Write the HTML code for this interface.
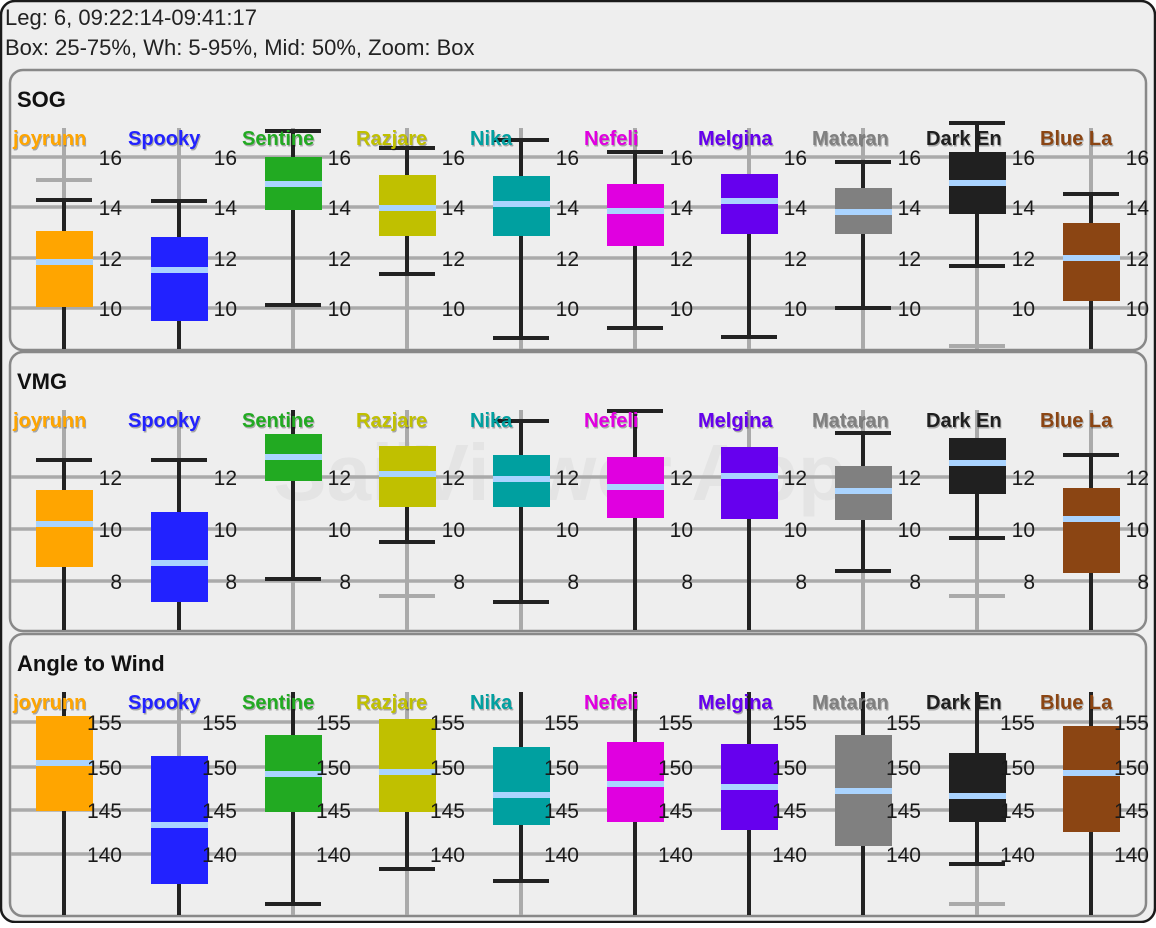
<!DOCTYPE html>
<html><head><meta charset="utf-8"><style>
html,body{margin:0;padding:0;background:#fff;}
body{width:1156px;height:923px;overflow:hidden;font-family:"Liberation Sans",sans-serif;}
</style></head><body>
<svg id="s" width="1156" height="923" xmlns="http://www.w3.org/2000/svg" font-family="Liberation Sans, sans-serif"></svg>
<script>
const S=document.getElementById('s');let h='';
h+='<rect x="1" y="1" width="1154" height="921" rx="14" fill="#eeeeee" stroke="#1a1a1a" stroke-width="2.5"/>';
h+='<text x="5" y="25" font-size="22" fill="#222">Leg: 6, 09:22:14-09:41:17</text>';
h+='<text x="5" y="55" font-size="22" fill="#222">Box: 25-75%, Wh: 5-95%, Mid: 50%, Zoom: Box</text>';
h+='<text x="560" y="500" font-size="80" font-weight="bold" fill="#000" fill-opacity="0.04" text-anchor="middle">SailViewer App</text>';
const cx=[64,179,293,407,521,635,749,863,977,1091];
const names=["joyrunn","Spooky","Sentine","Razjare","Nika","Nefeli","Melgina","Mataran","Dark En","Blue La"];
const cols=["#ffa500","#2222ff","#22aa22","#c0c000","#00a0a0","#e000e0","#6600ee","#808080","#202020","#8b4513"];
const P=[
{t:70,b:350,title:"SOG",ly:145,lt:128,ticks:[["16",157],["14",207],["12",258],["10",308]],
d:[[231,307,262,200,350,200,null,[180]],[237,321,270,201,350,201,null,[]],[157,210,184,131,305,131,305,[]],[175,236,208,148,274,148,274,[]],
[176,236,204,140,338,140,338,[]],[184,246,211,152,328,152,328,[]],[174,234,201,174,337,null,337,[]],[188,234,212,162,308,162,308,[]],
[152,214,183,123,266,123,266,[346]],[223,301,258,194,350,194,null,[]]]},
{t:352,b:631,title:"VMG",ly:427,lt:410,ticks:[["12",477],["10",529],["8",581]],
d:[[490,567,524,460,631,460,null,[]],[512,602,563,460,631,460,null,[]],[434,481,457,410,579,null,579,[]],[446,507,474,446,542,null,542,[596]],
[455,507,479,421,602,421,602,[]],[457,518,487,411,631,411,null,[]],[447,519,476,447,631,null,null,[]],[466,520,491,433,571,433,571,[]],
[438,494,463,438,538,null,538,[596]],[488,573,519,455,631,455,null,[]]]},
{t:634,b:916,title:"Angle to Wind",ly:709,lt:692,ticks:[["155",722],["150",767],["145",810],["140",854]],
d:[[716,811,763,692,916,null,null,[]],[756,884,825,756,916,null,null,[]],[735,812,774,692,904,null,904,[]],[719,812,772,719,869,null,869,[]],
[747,825,795,692,881,null,881,[]],[742,822,784,692,916,null,null,[]],[744,830,787,692,916,null,null,[]],[735,846,791,692,916,null,null,[]],
[753,822,796,692,864,null,864,[904]],[726,832,773,692,916,null,null,[]]]}
];
for(const p of P){
 h+=`<rect x="10" y="${p.t}" width="1136" height="${p.b-p.t}" rx="13" fill="none" stroke="#888" stroke-width="2.5"/>`;
 h+=`<text x="17" y="${p.t+37}" font-size="22" font-weight="bold" fill="#111">${p.title}</text>`;
 for(const [l,y] of p.ticks) h+=`<line x1="11" x2="1145" y1="${y}" y2="${y}" stroke="#aaa" stroke-width="3.5"/>`;
 p.d.forEach((d,i)=>{
  const x=cx[i];const [bt,bb,md,kt,kb,ct,cb,g]=d;
  h+=`<line x1="${x}" x2="${x}" y1="${p.lt}" y2="${p.b-1}" stroke="#aaa" stroke-width="4"/>`;
  h+=`<line x1="${x}" x2="${x}" y1="${kt}" y2="${Math.min(kb,p.b-1)}" stroke="#222" stroke-width="4"/>`;
  for(const gy of g) h+=`<line x1="${x-28}" x2="${x+28}" y1="${gy}" y2="${gy}" stroke="#aaa" stroke-width="4"/>`;
  if(ct!==null) h+=`<line x1="${x-28}" x2="${x+28}" y1="${ct}" y2="${ct}" stroke="#222" stroke-width="4"/>`;
  if(cb!==null) h+=`<line x1="${x-28}" x2="${x+28}" y1="${cb}" y2="${cb}" stroke="#222" stroke-width="4"/>`;
  h+=`<rect x="${x-28}" y="${bt}" width="57" height="${bb-bt}" fill="${cols[i]}"/>`;
  h+=`<rect x="${x-28}" y="${md-3}" width="57" height="6" fill="#aad4ff"/>`;
 });
 p.d.forEach((d,i)=>{
  const x=cx[i];
  for(const [l,y] of p.ticks) h+=`<text x="${x+58}" y="${y+8}" font-size="21" fill="#1a1a1a" text-anchor="end">${l}</text>`;
  h+=`<text x="${x-50}" y="${p.ly+1.5}" font-size="20" font-weight="bold" fill="#000" fill-opacity="0.3">${names[i]}</text>`;
  h+=`<text x="${x-51}" y="${p.ly}" font-size="20" font-weight="bold" fill="${cols[i]}">${names[i]}</text>`;
 });
}
S.innerHTML=h;
</script>
</body></html>
